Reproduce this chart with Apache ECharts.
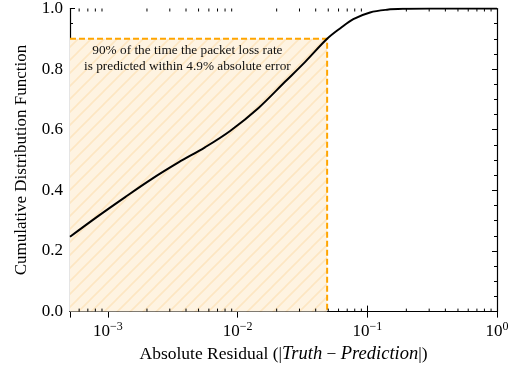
<!DOCTYPE html>
<html>
<head>
<meta charset="utf-8">
<script src="https://cdn.jsdelivr.net/npm/echarts@6/dist/echarts.min.js"></script>
<style>
  html, body { margin: 0; padding: 0; background: #fff; }
  #chart { width: 515px; height: 369px; }
</style>
</head>
<body>
<div id="chart"></div>
<script>
// residual (x) and CDF (y)
const residuals = [0.00051, 0.00084, 0.00135, 0.00217, 0.0035, 0.0056, 0.00875, 0.0145, 0.0233, 0.0332, 0.049, 0.062, 0.078, 0.105, 0.142, 0.19, 0.3, 1.0];
const cdfValues = [0.247, 0.315, 0.377, 0.437, 0.492, 0.542, 0.596, 0.672, 0.759, 0.824, 0.900, 0.935, 0.965, 0.987, 0.996, 0.999, 1.0, 1.0];

const xMin = 0.00051;
const xMax = 1;
const threshold = 0.049;   // 4.9% absolute error
const quantile = 0.9;      // 90%

// minor log ticks 2..9 per decade
const minorTicks = [];
for (let e = -4; e < 0; e++) {
    for (let m = 2; m <= 9; m++) {
        const v = m * Math.pow(10, e);
        if (v > xMin && v < xMax) minorTicks.push(v);
    }
}

const annotationLines = [
    '90% of the time the packet loss rate',
    'is predicted within 4.9% absolute error',
];

const serif = '"Liberation Serif", "DejaVu Serif", serif';
const orange = '#ffa500';

// hatch pattern for the shaded region
function makeHatch() {
    const s = 13;
    const c = document.createElement('canvas');
    c.width = s;
    c.height = s;
    const ctx = c.getContext('2d');
    ctx.fillStyle = '#fef3e1';
    ctx.fillRect(0, 0, s, s);
    ctx.strokeStyle = '#fde6c2';
    ctx.lineWidth = 1.6;
    ctx.beginPath();
    ctx.moveTo(-2, s + 2);
    ctx.lineTo(s + 2, -2);
    ctx.moveTo(-2, 2);
    ctx.lineTo(2, -2);
    ctx.moveTo(s - 2, s + 2);
    ctx.lineTo(s + 2, s - 2);
    ctx.stroke();
    return c;
}

const chart = echarts.init(document.getElementById('chart'));

const logLabel = (v) => {
    const e = Math.round(Math.log10(v));
    return '10{sup|' + (e < 0 ? '\u2212' + (-e) : e) + '}';
};

const xCommon = {
    type: 'log',
    logBase: 10,
    min: xMin,
    max: xMax,
    splitLine: { show: false },
    axisLine: { show: true, lineStyle: { color: '#000', width: 1.2 } },
    axisTick: { show: true, inside: true, length: 6, lineStyle: { color: '#000', width: 1 } },
};

const yCommon = {
    type: 'value',
    min: 0,
    max: 1,
    interval: 0.2,
    splitLine: { show: false },
    axisLine: { show: true, lineStyle: { color: '#000', width: 1.2 } },
    axisTick: { show: true, inside: true, length: 5, lineStyle: { color: '#000', width: 1 } },
    minorTick: { show: true, splitNumber: 4, length: 3, lineStyle: { color: '#000', width: 1 } },
};

const option = {
    animation: false,
    backgroundColor: '#fff',
    grid: { left: 70, right: 18, top: 6, bottom: 56 },
    xAxis: [
        Object.assign({}, xCommon, {
            position: 'bottom',
            name: 'Absolute Residual (|{i|Truth} \u2212 {i|Prediction}|)',
            nameLocation: 'middle',
            nameGap: 32,
            nameTextStyle: {
                color: '#000',
                fontFamily: serif,
                fontSize: 17.5,
                rich: { i: { fontStyle: 'italic', fontFamily: serif, fontSize: 18.5, color: '#000' } },
            },
            axisLabel: {
                show: true,
                showMinLabel: false,
                margin: 9,
                color: '#000',
                fontFamily: serif,
                fontSize: 17,
                formatter: logLabel,
                rich: { sup: { fontSize: 12, fontFamily: serif, color: '#000', verticalAlign: 'bottom', padding: [0, 0, 10, 0] } },
            },
        }),
        Object.assign({}, xCommon, {
            position: 'top',
            axisLabel: { show: false },
        }),
    ],
    yAxis: [
        Object.assign({}, yCommon, {
            position: 'left',
            name: 'Cumulative Distribution Function',
            nameLocation: 'middle',
            nameGap: 40,
            nameTextStyle: { color: '#000', fontFamily: serif, fontSize: 17 },
            axisLabel: {
                color: '#000',
                fontFamily: serif,
                fontSize: 17,
                margin: 7,
                formatter: (v) => v.toFixed(1),
            },
        }),
        Object.assign({}, yCommon, {
            position: 'right',
            axisLabel: { show: false },
        }),
    ],
    series: [
        {
            // shaded region + dashed guide lines
            type: 'line',
            data: [[xMin, quantile], [threshold, quantile], [threshold, 0]],
            symbol: 'none',
            lineStyle: { color: orange, width: 2, type: [6, 3] },
            z: 3,
            markArea: {
                silent: true,
                itemStyle: { color: { image: makeHatch(), repeat: 'repeat' } },
                data: [[{ coord: [xMin, 0] }, { coord: [threshold, quantile] }]],
            },
        },
        {
            type: 'line',
            data: residuals.map((x, i) => [x, cdfValues[i]]),
            symbol: 'none',
            smooth: 0.35,
            lineStyle: { color: '#000', width: 2 },
            z: 4,
        },
        {
            // minor log ticks on bottom and top
            type: 'custom',
            data: minorTicks.map((v) => [v, 0]),
            clip: false,
            silent: true,
            z: 5,
            renderItem: (params, api) => {
                const b = api.coord([api.value(0), 0]);
                const t = api.coord([api.value(0), 1]);
                const st = { stroke: '#000', lineWidth: 1 };
                return {
                    type: 'group',
                    children: [
                        { type: 'line', shape: { x1: b[0], y1: b[1], x2: b[0], y2: b[1] - 3 }, style: st },
                        { type: 'line', shape: { x1: t[0], y1: t[1], x2: t[0], y2: t[1] + 3 }, style: st },
                    ],
                };
            },
        },
    ],
};

chart.setOption(option);

// annotation text, placed in data coordinates
const anchor = chart.convertToPixel({ xAxisIndex: 0, yAxisIndex: 0 }, [0.0041, 0.9]);
chart.setOption({
    graphic: annotationLines.map((line, i) => ({
        type: 'text',
        x: anchor[0],
        y: anchor[1] + 12 + i * 16,
        z: 10,
        style: {
            text: line,
            fontFamily: serif,
            fontSize: 13.3,
            fill: '#111',
            align: 'center',
            verticalAlign: 'middle',
        },
    })),
});
</script>
</body>
</html>
